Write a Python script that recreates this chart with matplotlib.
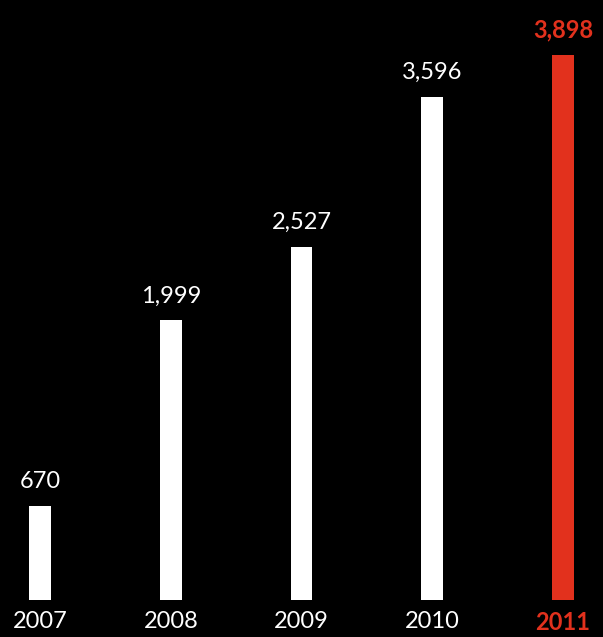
import matplotlib.pyplot as plt

years = ['2007', '2008', '2009', '2010', '2011']
values = [670, 1999, 2527, 3596, 3898]
colors = ['white', 'white', 'white', 'white', '#e2311d']

plt.rcParams['font.family'] = ['Lato', 'DejaVu Sans']

fig = plt.figure(figsize=(6.03, 6.37), dpi=100, facecolor='black')
ax = fig.add_axes([0, 37 / 637, 1, 600 / 637])
ax.set_facecolor('black')

x = list(range(len(years)))
ax.bar(x, values, width=0.168, color=colors)

ax.set_xlim(-0.306, 4.306)
ax.set_ylim(0, 4291)

# value labels above bars
for i, v in enumerate(values):
    last = i == len(values) - 1
    ax.annotate(f'{v:,}', (i, v), xytext=(0, 10), textcoords='offset points',
                ha='center', va='bottom', fontsize=17,
                color=colors[i] if last else 'white',
                fontweight='bold' if last else 'normal')

# year labels below
for i, y in enumerate(years):
    last = i == len(years) - 1
    ax.annotate(y, (i, 0), xytext=(0, -8), textcoords='offset points',
                ha='center', va='top', fontsize=17,
                color=colors[i] if last else 'white',
                fontweight='bold' if last else 'normal',
                annotation_clip=False)

ax.axis('off')
fig.savefig('out.png', dpi=100, facecolor='black')
